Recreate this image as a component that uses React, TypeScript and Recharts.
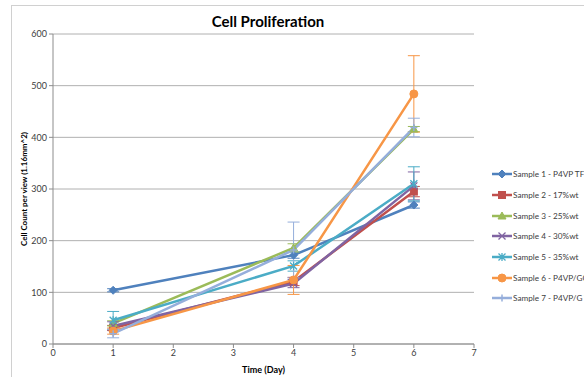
import { CartesianGrid, ErrorBar, Line, LineChart, XAxis, YAxis } from "recharts";

const days = [1, 4, 6];
const seriesNames = [
  "Sample 1 - P4VP TF",
  "Sample 2 - 17%wt",
  "Sample 3 - 25%wt",
  "Sample 4 - 30%wt",
  "Sample 5 - 35%wt",
  "Sample 6 - P4VP/GO",
  "Sample 7 - P4VP/G T",
];
const colors = ["#4F81BD", "#C0504D", "#9BBB59", "#8064A2", "#4BACC6", "#F79646", "#95AEDB"];
const markers = ["diamond", "square", "triangle", "cross", "star", "circle", "plus"];

const sample1 = [104, 172, 269];
const sample2 = [31, 121, 295];
const sample3 = [40, 186, 416];
const sample4 = [35, 117, 306];
const sample5 = [46, 151, 310];
const sample6 = [25, 124, 484];
const sample7 = [20, 182, 419];

const sample1Err = [3, 6, 6];
const sample2Err = [5, 8, 10];
const sample3Err = [5, 8, 5];
const sample4Err = [8, 8, 27];
const sample5Err = [17, 10, 33];
const sample6Err = [6, 28, 74];
const sample7Err = [8, 54, 18];

const xTicks = [0, 1, 2, 3, 4, 5, 6, 7];
const yTicks = [0, 100, 200, 300, 400, 500, 600];

const values = [sample1, sample2, sample3, sample4, sample5, sample6, sample7];
const errors = [sample1Err, sample2Err, sample3Err, sample4Err, sample5Err, sample6Err, sample7Err];

const rows = days.map((day, i) => {
  const row: Record<string, number> = { day };
  values.forEach((v, s) => {
    row[`s${s + 1}`] = v[i];
    row[`e${s + 1}`] = errors[s][i];
  });
  return row;
});

const font = "Lato, 'Open Sans', sans-serif";

function Marker({ kind, cx, cy, color }: { kind: string; cx: number; cy: number; color: string }) {
  const r = 3.5;
  switch (kind) {
    case "diamond":
      return <polygon points={`${cx},${cy - 4} ${cx + 4},${cy} ${cx},${cy + 4} ${cx - 4},${cy}`} fill={color} stroke={color} />;
    case "square":
      return <rect x={cx - r} y={cy - r} width={r * 2} height={r * 2} fill={color} stroke={color} />;
    case "triangle":
      return <polygon points={`${cx},${cy - 4} ${cx + 4},${cy + 3} ${cx - 4},${cy + 3}`} fill={color} stroke={color} />;
    case "cross":
      return (
        <path d={`M${cx - r},${cy - r}L${cx + r},${cy + r}M${cx - r},${cy + r}L${cx + r},${cy - r}`} stroke={color} strokeWidth={1.3} fill="none" />
      );
    case "star":
      return (
        <path
          d={`M${cx - r},${cy - r}L${cx + r},${cy + r}M${cx - r},${cy + r}L${cx + r},${cy - r}M${cx},${cy - r - 0.5}L${cx},${cy + r + 0.5}`}
          stroke={color}
          strokeWidth={1.3}
          fill="none"
        />
      );
    case "circle":
      return <circle cx={cx} cy={cy} r={r + 0.5} fill={color} stroke={color} />;
    default:
      return <path d={`M${cx - r},${cy}L${cx + r},${cy}M${cx},${cy - r}L${cx},${cy + r}`} stroke={color} strokeWidth={1.5} fill="none" />;
  }
}

function ChartLegend() {
  return (
    <div style={{ position: "absolute", left: 491, top: 164, fontFamily: font, fontSize: 8.2, color: "#404040" }}>
      {seriesNames.map((name, i) => (
        <div key={name} style={{ display: "flex", alignItems: "center", height: 20.7, whiteSpace: "nowrap" }}>
          <svg width={22} height={10} style={{ flexShrink: 0 }}>
            <line x1={1} y1={5} x2={21} y2={5} stroke={colors[i]} strokeWidth={2.5} />
            <Marker kind={markers[i]} cx={11} cy={5} color={colors[i]} />
          </svg>
          <span>{name}</span>
        </div>
      ))}
    </div>
  );
}

export default function App() {
  return (
    <div style={{ position: "absolute", left: 0, top: 0, width: 584, height: 377, overflow: "hidden", background: "#fff" }}>
      <div style={{ position: "absolute", left: 11, top: 5, width: 600, height: 400, borderTop: "1px solid #d0d0d0", borderLeft: "1px solid #d0d0d0" }} />
      <div style={{ position: "absolute", left: 0, top: 12, width: 536, textAlign: "center", fontFamily: font, fontWeight: 700, fontSize: 15, color: "#000" }}>
        Cell Proliferation
      </div>
      <div style={{ position: "absolute", left: 0, top: 0 }}>
        <LineChart width={584} height={377} data={rows} margin={{ top: 34, right: 110, bottom: 0, left: 0 }}>
          <CartesianGrid vertical={false} stroke="#b0b0b0" />
          <XAxis
            dataKey="day"
            type="number"
            domain={[0, 7]}
            ticks={xTicks}
            height={33}
            stroke="#8c8c8c"
            tickSize={4}
            tick={{ fontSize: 9, fill: "#404040", fontFamily: font }}
            label={{ value: "Time (Day)", position: "insideBottom", offset: 4, fontSize: 9, fontWeight: 700, fill: "#000", fontFamily: font }}
          />
          <YAxis
            type="number"
            domain={[0, 600]}
            ticks={yTicks}
            width={53}
            stroke="#8c8c8c"
            tickSize={4}
            tick={{ fontSize: 9, fill: "#404040", fontFamily: font }}
            label={{ value: "Cell Count per view (1.16mm^2)", angle: -90, position: "center", dx: -2, fontSize: 8, fontWeight: 700, fill: "#000", fontFamily: font }}
          />
          {seriesNames.map((name, i) => (
            <Line
              key={name}
              dataKey={`s${i + 1}`}
              name={name}
              stroke={colors[i]}
              strokeWidth={2.5}
              isAnimationActive={false}
              dot={(p: any) => <Marker key={`${i}-${p.index}`} kind={markers[i]} cx={p.cx} cy={p.cy} color={colors[i]} />}
              activeDot={false}
            >
              <ErrorBar dataKey={`e${i + 1}`} width={6} strokeWidth={1} stroke={colors[i]} direction="y" />
            </Line>
          ))}
        </LineChart>
      </div>
      <ChartLegend />
    </div>
  );
}
